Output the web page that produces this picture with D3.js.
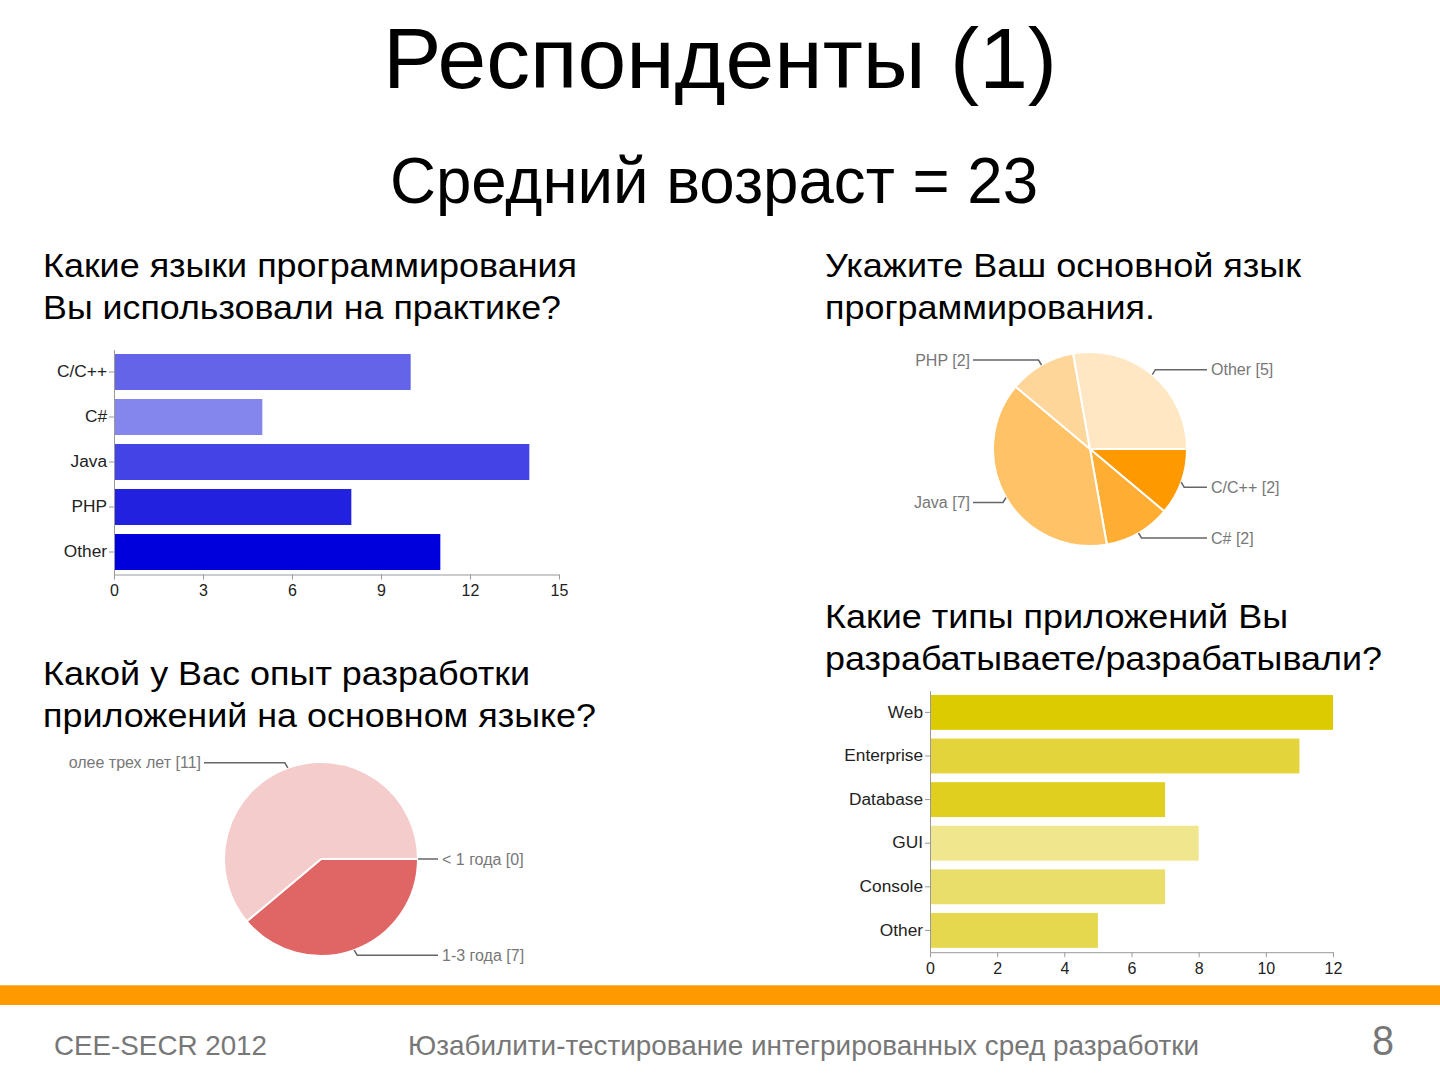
<!DOCTYPE html>
<html><head><meta charset="utf-8">
<script src="https://cdn.jsdelivr.net/npm/d3@7"></script>
<style>
html,body{margin:0;padding:0;background:#fff;}
svg{display:block;font-family:"Liberation Sans",Arial,sans-serif;}
</style></head>
<body>
<svg id="c" width="1440" height="1080"></svg>
<script>
// ---------- data ----------
const langCategories = ["C/C++", "C#", "Java", "PHP", "Other"];
const langValues = [10, 5, 14, 8, 11];
const langColors = ["#6464e8", "#8585ee", "#4444e6", "#2121df", "#0000dc"];
const langTicks = [0, 3, 6, 9, 12, 15];

const mainLangCategories = ["C/C++", "C#", "Java", "PHP", "Other"];
const mainLangValues = [2, 2, 7, 2, 5];
const mainLangColors = ["#ff9900", "#ffad33", "#ffc266", "#ffd699", "#ffe7c4"];

const expCategories = ["< 1 года", "1-3 года", "олее трех лет"];
const expValues = [0, 7, 11];
const expColors = ["#cc0000", "#e06666", "#f4cccc"];

const appCategories = ["Web", "Enterprise", "Database", "GUI", "Console", "Other"];
const appValues = [12, 11, 7, 8, 7, 5];
const appColors = ["#dccb00", "#e3d43b", "#e0cf1f", "#efe68d", "#e8de69", "#e5d74e"];
const appTicks = [0, 2, 4, 6, 8, 10, 12];

// ---------- helpers ----------
const svg = d3.select("#c");
const FONT = "Liberation Sans, Arial, sans-serif";
function txt(s, x, y, size, width, opts = {}) {
  const t = svg.append("text")
    .attr("x", x).attr("y", y)
    .attr("font-size", size)
    .attr("fill", opts.fill || "#000")
    .attr("text-anchor", opts.anchor || "start")
    .text(s);
  if (width) t.attr("textLength", width).attr("lengthAdjust", "spacingAndGlyphs");
  return t;
}
function stretch(sel, k) {
  sel.each(function () {
    const w = this.getComputedTextLength();
    d3.select(this).attr("textLength", w * k).attr("lengthAdjust", "spacingAndGlyphs");
  });
}

// ---------- titles ----------
txt("Респонденты (1)", 383, 88, 85, 674);
txt("Средний возраст = 23", 390, 203, 64, 648);

txt("Какие языки программирования", 43, 277, 33, 534);
txt("Вы использовали на практике?", 43, 319, 33, 518);
txt("Укажите Ваш основной язык", 825, 277, 33, 476);
txt("программирования.", 825, 319, 33, 330);
txt("Какой у Вас опыт разработки", 43, 685, 33, 487);
txt("приложений на основном языке?", 43, 727, 33, 553);
txt("Какие типы приложений Вы", 825, 628, 33, 463);
txt("разрабатываете/разрабатывали?", 825, 670, 33, 557);

// ---------- bar chart helper ----------
function barChart(cats, vals, cols, ticks, xr, yr) {
  const x = d3.scaleLinear().domain([0, ticks[ticks.length - 1]]).range(xr);
  const y = d3.scaleBand().domain(cats).range(yr).paddingInner(0.2).paddingOuter(0.1);
  const g = svg.append("g");
  g.selectAll("rect").data(cats).join("rect")
    .attr("x", x(0)).attr("y", d => y(d))
    .attr("width", (d, i) => x(vals[i]) - x(0))
    .attr("height", y.bandwidth())
    .attr("fill", (d, i) => cols[i]);
  // x axis
  const xa = g.append("g").attr("transform", `translate(0,${yr[1]})`)
    .call(d3.axisBottom(x).tickValues(ticks).tickSize(5).tickSizeOuter(0).tickPadding(5));
  xa.select(".domain").attr("stroke", "#999");
  xa.selectAll(".tick line").attr("stroke", "#999");
  xa.selectAll(".tick text").attr("font-size", 16).attr("fill", "#222").attr("font-family", FONT);
  // y axis
  const ya = g.append("g").attr("transform", `translate(${xr[0]},0)`)
    .call(d3.axisLeft(y).tickSize(5).tickSizeOuter(0).tickPadding(2));
  ya.select(".domain").attr("stroke", "#999");
  ya.selectAll(".tick line").attr("stroke", "#999");
  ya.selectAll(".tick text").attr("font-size", 16).attr("fill", "#222").attr("font-family", FONT);
  stretch(ya.selectAll(".tick text"), 1.08);
}

barChart(langCategories, langValues, langColors, langTicks, [114, 559], [349.5, 574.5]);
barChart(appCategories, appValues, appColors, appTicks, [930, 1333], [690.6, 952.2]);

// ---------- pie chart helper ----------
function pieChart(cats, vals, cols, cx, cy, r) {
  const pie = d3.pie().sort(null).value(d => d)
    .startAngle(Math.PI / 2).endAngle(Math.PI / 2 + 2 * Math.PI);
  const arcs = pie(vals);
  const arc = d3.arc().innerRadius(0).outerRadius(r);
  const g = svg.append("g").attr("transform", `translate(${cx},${cy})`);
  g.selectAll("path").data(arcs).join("path")
    .attr("d", arc)
    .attr("fill", (d, i) => cols[i])
    .attr("stroke", "#fff").attr("stroke-width", d => d.value > 0 ? 2 : 0);
  arcs.forEach((a, i) => {
    const m = (a.startAngle + a.endAngle) / 2;
    const px = Math.sin(m) * r, py = -Math.cos(m) * r;
    const right = px >= -0.001;
    const ly = Math.abs(py) < 1 ? py : py + (py > 0 ? 5 : -5);
    const ex = right ? r + 20 : -(r + 20);
    const dx = right ? 3 : -3;
    g.append("path")
      .attr("d", `M${px},${py}L${px + (Math.abs(py) < 1 ? 0 : dx)},${ly}L${ex},${ly}`)
      .attr("fill", "none").attr("stroke", "#666").attr("stroke-width", 1.5);
    g.append("text")
      .attr("x", right ? r + 24 : -(r + 23))
      .attr("y", ly).attr("dy", "0.35em")
      .attr("text-anchor", right ? "start" : "end")
      .attr("font-size", 16).attr("fill", "#777")
      .text(`${cats[i]} [${vals[i]}]`);
  });
}

pieChart(mainLangCategories, mainLangValues, mainLangColors, 1090, 449, 97);
pieChart(expCategories, expValues, expColors, 321, 859, 97);

// ---------- footer ----------
svg.append("rect").attr("x", 0).attr("y", 985).attr("width", 1440).attr("height", 20).attr("fill", "#ff9900");
svg.append("rect").attr("x", 0).attr("y", 985).attr("width", 1440).attr("height", 1).attr("fill", "#ffb84d");
txt("CEE-SECR 2012", 54, 1055, 28, 213, { fill: "#777" });
txt("Юзабилити-тестирование интегрированных сред разработки", 408, 1055, 28, 791, { fill: "#777" });
txt("8", 1372, 1055, 43, 22, { fill: "#777" });
</script>
</body></html>
